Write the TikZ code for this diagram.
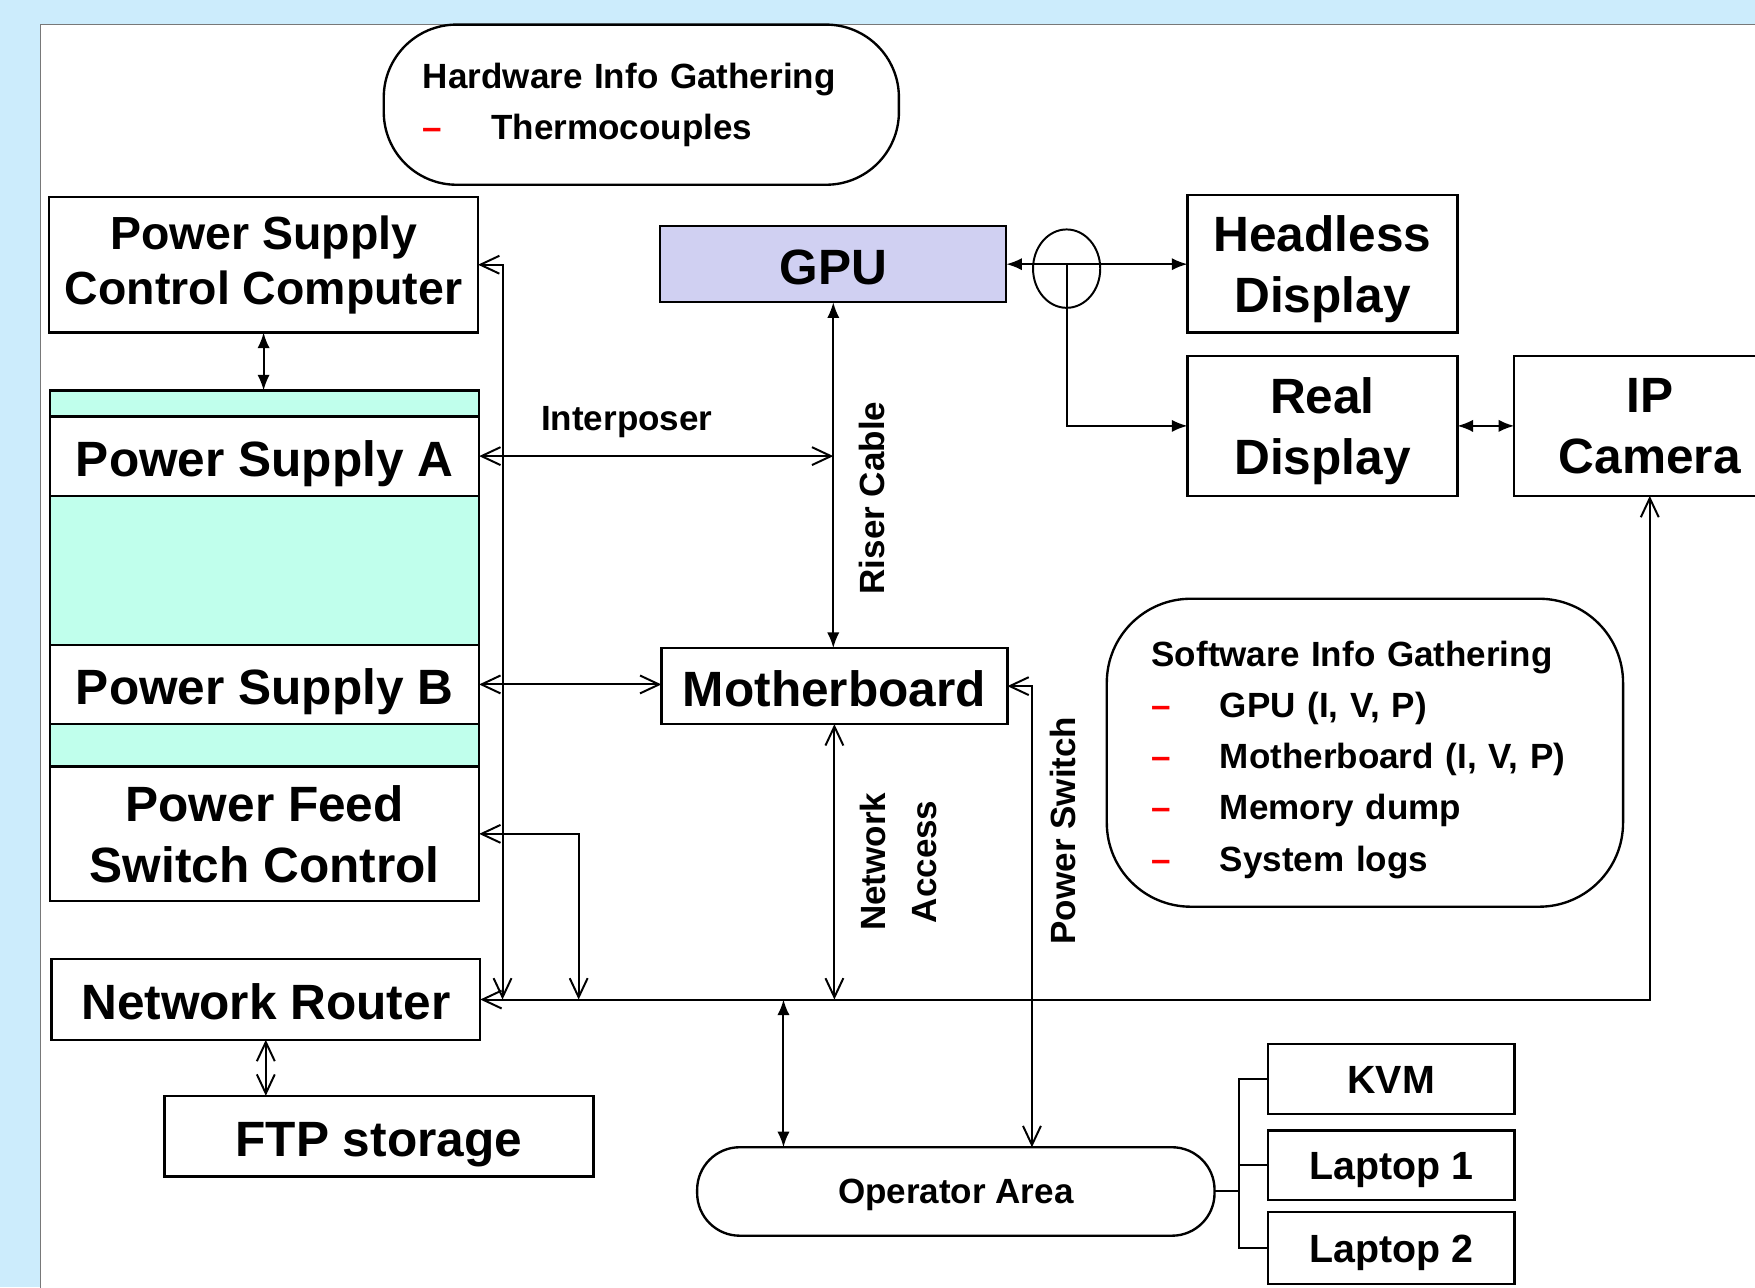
\documentclass[tikz,border=0pt]{standalone}
\usepackage{fontspec}
\setmainfont{Liberation Sans}
\usepackage{tikz}
\usetikzlibrary{shapes,arrows.meta}
\definecolor{skyBack}{RGB}{204,236,252}
\definecolor{psMint}{RGB}{192,255,236}
\definecolor{gpuLilac}{RGB}{208,208,242}
\definecolor{panelGrey}{RGB}{120,120,120}
\newcommand{\infoitem}[1]{\\\makebox[0.61cm][l]{\textcolor{red}{--}}#1}

\begin{document}
\begin{tikzpicture}[x=0.01cm, y=-0.01cm]%
  \tikzset{link/.style={draw, line width=0.5pt},
    solidtip/.tip={Latex[length=1.4mm, width=1.1mm]},
    opentip/.tip={Straight Barb[length=1.7mm, width=1.6mm]},
    block/.style={draw, line width=0.6pt, fill=white, font=\bfseries\fontsize{12.6}{15.5}\selectfont},
    oneline/.style={block, text height=11pt, text depth=0.7pt},
    twoline/.style={block, text depth=-1.6pt},
    minibox/.style={draw, line width=0.6pt, fill=white, text height=7.3pt, text depth=0pt, font=\bfseries\fontsize{10}{12}\selectfont},
    info/.style={draw, line width=0.6pt, fill=white, align=left, font=\bfseries\fontsize{8.9}{13}\selectfont},
    linkname/.style={font=\bfseries\fontsize{8.9}{13}\selectfont}}
  \tikzstyle{every node}=[inner sep=0pt, outer sep=0pt, align=center]

  \useasboundingbox (0,0) rectangle (1568,1150);
  \clip (0,0) rectangle (1568,1150);
  \fill[skyBack] (0,0) rectangle (1568,1150);
  \draw[panelGrey, fill=white, line width=0.4pt] (36,22) rectangle (1620,1200);

  % info boxes
  \node[info, rounded corners=0.65cm, minimum width=4.6cm, minimum height=1.43cm, text width=3.9cm] at (573,93.5) (HW) {Hardware Info Gathering\infoitem{Thermocouples}};
  \node[info, rounded corners=0.75cm, minimum width=4.61cm, minimum height=2.75cm, text width=3.81cm, text depth=50.3pt] at (1219.5,672.5) (SW) {Software Info Gathering\infoitem{GPU (I, V, P)}\infoitem{Motherboard (I, V, P)}\infoitem{Memory dump}\infoitem{System logs}};

  % power side
  \node[block, minimum width=3.83cm, minimum height=1.21cm, font=\bfseries\fontsize{11.8}{14}\selectfont] at (235.5,236.5) (PSCC) {Power Supply\\Control Computer};
  \node[draw, line width=0.6pt, fill=psMint, minimum width=3.83cm, minimum height=4.56cm] at (236.5,577) (STK) {};
  \node[oneline, minimum width=3.83cm, minimum height=0.71cm] at (236.5,407.5) (PSA) {Power Supply A};
  \node[oneline, minimum width=3.83cm, minimum height=0.71cm] at (236.5,611.5) (PSB) {Power Supply B};
  \node[twoline, minimum width=3.83cm, minimum height=1.2cm] at (236.5,745) (PFSC) {Power Feed\\Switch Control};
  \node[oneline, minimum width=3.83cm, minimum height=0.72cm] at (237.5,893) (NR) {Network Router};
  \node[oneline, minimum width=3.83cm, minimum height=0.72cm] at (338.5,1015) (FTP) {FTP storage};

  % machine and displays
  \node[oneline, fill=gpuLilac, minimum width=3.09cm, minimum height=0.68cm] at (744.5,236) (GPU) {GPU};
  \node[oneline, minimum width=3.09cm, minimum height=0.68cm] at (745.5,613) (MB) {Motherboard};
  \node[draw, line width=0.5pt, ellipse, minimum width=0.6cm, minimum height=0.7cm] at (953,240) (SPL) {};
  \node[twoline, minimum width=2.41cm, minimum height=1.23cm] at (1181.5,235.5) (HD) {Headless\\Display};
  \node[twoline, minimum width=2.41cm, minimum height=1.25cm] at (1181.5,380.5) (RD) {Real\\Display};
  \node[twoline, minimum width=2.42cm, minimum height=1.25cm] at (1474,380.5) (IPC) {IP\\Camera};

  % operator side
  \node[block, rounded corners=0.38cm, minimum width=4.62cm, minimum height=0.79cm, text depth=0.2pt, font=\bfseries\fontsize{8.9}{13}\selectfont] at (854,1064.5) (OA) {Operator Area};
  \node[minibox, minimum width=2.2cm, minimum height=0.62cm] at (1243,964) (KVM) {KVM};
  \node[minibox, minimum width=2.2cm, minimum height=0.62cm] at (1243,1041) (LT1) {Laptop 1};
  \node[minibox, minimum width=2.2cm, minimum height=0.64cm] at (1243,1115) (LT2) {Laptop 2};

  \node[linkname] at (560,377) (IPL) {Interposer};
  \node[linkname, rotate=90] at (779,445) (RCL) {Riser Cable};
  \node[linkname, rotate=90] at (803,770) (NAL) {Network\\Access};
  \node[linkname, rotate=90] at (950,742) (PSWL) {Power Switch};

  \coordinate (J1) at (449,893);
  \coordinate (J2) at (517,893);
  \coordinate (J3) at (700,893);
  \coordinate (J4) at (922,1025);
  \coordinate (J5) at (1107,1064.5);

  \path[link, solidtip-solidtip] (PSCC.south) -- (PSCC.south |- STK.north);
  \path[link, solidtip-solidtip] (GPU.south) -- (GPU.south |- MB.north);
  \path[link, solidtip-solidtip] (GPU.east) -- (GPU.east -| HD.west);
  \path[link, -solidtip] (SPL.center |- GPU.east) |- (RD.west);
  \path[link, solidtip-solidtip] (RD.east) -- (IPC.west);
  \path[link, opentip-opentip] (PSA.east) -- (PSA.east -| GPU.south);
  \path[link, opentip-opentip] (PSB.east) -- (PSB.east -| MB.west);
  \path[link, opentip-opentip] (PSCC.east) -| (J1);
  \path[link, opentip-opentip] (PFSC.east) -| (J2);
  \path[link, opentip-opentip] (NR.east) -| (IPC.south);
  \path[link, opentip-opentip] (MB.south) -- (MB.south |- NR.east);
  \path[link, solidtip-solidtip] (J3) -- (J3 |- OA.north);
  \path[link, opentip-opentip] (MB.east) -| (J4);
  \path[link, opentip-opentip] (NR.south) -- (NR.south |- FTP.north);
  \path[link] (OA.east) -- (J5);
  \path[link] (KVM.west) -| (J5 |- LT2.west) -- (LT2.west);
  \path[link] (LT1.west) -- (J5 |- LT1.west);
\end{tikzpicture}
\end{document}
